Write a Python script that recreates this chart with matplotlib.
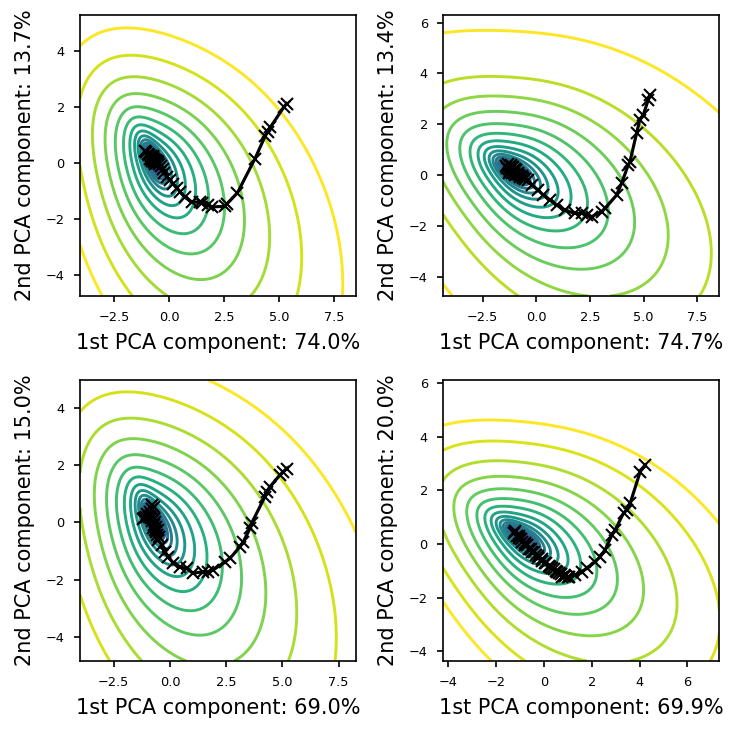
import numpy as np
import matplotlib
matplotlib.use("Agg")
import matplotlib.pyplot as plt

# ---------------- data ----------------
xlabels = ["1st PCA component: 74.0%", "1st PCA component: 74.7%",
           "1st PCA component: 69.0%", "1st PCA component: 69.9%"]
ylabels = ["2nd PCA component: 13.7%", "2nd PCA component: 13.4%",
           "2nd PCA component: 15.0%", "2nd PCA component: 20.0%"]
xlims = [(-4.06, 8.49), (-4.34, 8.53), (-4.0, 8.27), (-4.23, 7.35)]
ylims = [(-4.73, 5.27), (-4.76, 6.3), (-4.84, 4.97), (-4.37, 6.12)]
xticks = [[-2.5, 0.0, 2.5, 5.0, 7.5], [-2.5, 0.0, 2.5, 5.0, 7.5],
          [-2.5, 0.0, 2.5, 5.0, 7.5], [-4, -2, 0, 2, 4, 6]]
yticks = [[-4, -2, 0, 2, 4], [-4, -2, 0, 2, 4, 6], [-4, -2, 0, 2, 4], [-4, -2, 0, 2, 4, 6]]

traj1_x = [5.34, 5.20, 4.60, 4.48, 4.36, 3.90, 3.10, 2.62, 2.52, 1.95, 1.75, 1.50, 1.40, 1.05,
           0.72, 0.50, 0.35, 0.18, 0.05, -0.10, -0.22, -0.30, -0.38, -0.45, -0.52, -0.58, -0.62,
           -0.68, -0.72, -0.78, -0.82, -0.70, -0.75, -0.85, -0.92, -0.98, -1.05, -1.12, -0.88,
           -0.80, -0.66, -0.60, -0.70, -0.78, -0.72, -0.65, -0.55]
traj1_y = [2.12, 1.98, 1.28, 1.12, 0.96, 0.16, -1.06, -1.45, -1.54, -1.56, -1.50, -1.42, -1.38,
           -1.40, -1.22, -1.04, -0.88, -0.74, -0.62, -0.50, -0.36, -0.22, -0.10, -0.02, 0.04,
           0.00, 0.08, 0.04, 0.12, 0.10, 0.18, 0.16, 0.22, 0.24, 0.30, 0.34, 0.40, 0.44, 0.14,
           0.06, -0.04, 0.02, 0.10, 0.20, 0.26, 0.12, 0.06]

traj2_x = [5.29, 5.21, 4.98, 4.82, 4.67, 4.36, 4.28, 3.97, 3.74, 3.20, 3.04, 2.58, 2.34, 2.11,
           1.80, 1.33, 0.95, 0.64, 0.33, 0.09, -0.21, -0.37, -0.50, -0.60, -0.68, -0.75, -0.82,
           -0.90, -0.98, -1.05, -1.12, -1.20, -1.28, -1.36, -1.42, -1.30, -1.18, -1.08, -0.95,
           -0.85, -1.00, -1.15, -1.25]
traj2_y = [3.15, 2.95, 2.36, 2.17, 1.64, 0.52, 0.39, -0.33, -0.79, -1.31, -1.44, -1.64, -1.57,
           -1.51, -1.51, -1.38, -1.18, -0.98, -0.79, -0.59, -0.39, -0.20, -0.16, -0.10, -0.05,
           -0.08, 0.00, 0.05, 0.02, 0.10, 0.08, 0.15, 0.22, 0.28, 0.35, 0.42, 0.40, 0.30, 0.18,
           0.10, 0.22, 0.30, 0.10]

traj3_x = [5.19, 5.04, 4.89, 4.44, 4.30, 4.22, 3.63, 3.56, 3.26, 3.11, 2.67, 2.44, 1.93, 1.70,
           1.48, 1.04, 0.74, 0.44, 0.15, -0.07, -0.22, -0.37, -0.52, -0.59, -0.50, -0.62, -0.55,
           -0.68, -0.60, -0.72, -0.65, -0.78, -0.70, -0.85, -0.95, -1.05, -1.15, -1.20, -1.00,
           -0.88, -0.80, -0.72, -0.78, -0.82, -0.75]
traj3_y = [1.88, 1.77, 1.65, 1.24, 1.07, 0.89, -0.03, -0.21, -0.68, -0.85, -1.26, -1.38, -1.66,
           -1.72, -1.72, -1.78, -1.61, -1.55, -1.43, -1.20, -1.03, -0.79, -0.62, -0.44, -0.50,
           -0.35, -0.25, -0.28, -0.15, -0.10, 0.00, 0.05, 0.12, 0.15, 0.20, 0.18, 0.14, 0.10,
           0.30, 0.35, 0.45, 0.55, 0.60, 0.25, -0.20]

traj4_x = [4.24, 4.03, 3.61, 3.47, 3.33, 2.98, 2.85, 2.56, 2.36, 2.15, 1.80, 1.59, 1.31, 1.03,
           0.75, 0.90, 0.61, 0.50, 0.33, 0.20, 0.05, -0.08, -0.23, -0.35, -0.50, -0.62, -0.78,
           -0.90, -1.06, -1.15, -1.27, -1.20, -1.05, -0.95, -0.80, -0.70, -0.55, -0.40, -0.25,
           -0.10, 0.10, 0.25, 0.40, 0.55, 0.70, 0.85, 1.00]
traj4_y = [2.95, 2.70, 1.52, 1.27, 1.15, 0.52, 0.34, -0.22, -0.47, -0.66, -0.91, -1.03, -1.16,
           -1.22, -1.22, -1.18, -1.09, -1.00, -0.91, -0.82, -0.72, -0.62, -0.53, -0.42, -0.29,
           -0.18, -0.04, 0.08, 0.21, 0.30, 0.40, 0.50, 0.30, 0.20, 0.05, -0.05, -0.20, -0.30,
           -0.45, -0.55, -0.70, -0.85, -0.95, -1.05, -1.12, -1.20, -1.25]

# loss-surface description per panel: inner basin metric morphing into a broad outer bowl,
# skewed toward the valley direction
basin_x = [-0.75, -1.15, -0.75, -1.00]
basin_y = [0.12, 0.20, 0.10, 0.30]
basin_angle = [-57, -31, -58, -32]
basin_major = [1.0, 1.0, 1.0, 1.0]
basin_minor = [0.40, 0.38, 0.38, 0.33]
bowl_angle = [-48, -27, -48, -30]
bowl_major = [1.22, 1.18, 1.15, 1.08]
bowl_minor = [0.78, 0.64, 0.74, 0.60]
morph_scale = [5.0, 5.0, 5.0, 5.0]
skew_angle = [-40, -25, -40, -25]
skew_strength = [0.8, 0.75, 0.8, 0.75]
skew_radius = [1.0, 1.0, 1.0, 1.0]
second_level = [37.5, 37.5, 37.5, 37.5]   # value of the second-highest contour
top_gap = [0.0, 0.80, 0.47, 0.40]          # log-gap to the highest contour (0 = none)
n_levels = 20
outer_step = 0.46   # log-spacing of the outer levels
inner_step = 0.26   # log-spacing of the innermost levels

trajs = [(traj1_x, traj1_y), (traj2_x, traj2_y), (traj3_x, traj3_y), (traj4_x, traj4_y)]


def quad(dx, dy, ang, a, b):
    t = np.deg2rad(ang)
    u = dx * np.cos(t) + dy * np.sin(t)
    v = -dx * np.sin(t) + dy * np.cos(t)
    return (u / a) ** 2 + (v / b) ** 2


def surface(X, Y, i):
    dx = X - basin_x[i]
    dy = Y - basin_y[i]
    QA = quad(dx, dy, basin_angle[i], basin_major[i], basin_minor[i])
    t = QA / (QA + morph_scale[i])
    ang = basin_angle[i] + t * (bowl_angle[i] - basin_angle[i])
    a = basin_major[i] + t * (bowl_major[i] - basin_major[i])
    b = basin_minor[i] + t * (bowl_minor[i] - basin_minor[i])
    Q = quad(dx, dy, ang, a, b)
    e = np.deg2rad(skew_angle[i])
    r = np.hypot(dx, dy)
    proj = dx * np.cos(e) + dy * np.sin(e)
    S = Q * np.exp(-skew_strength[i] * proj / (r + skew_radius[i]))
    return np.log(S + 1e-12)


fig = plt.figure(figsize=(4.9, 4.9), dpi=150)
positions = [(0.1088, 0.5973, 0.3755, 0.3823), (0.6027, 0.5973, 0.3762, 0.3823),
             (0.1088, 0.1007, 0.3755, 0.3823), (0.6027, 0.1007, 0.3762, 0.3823)]

steps = np.linspace(outer_step, inner_step, n_levels - 1)

for i in range(4):
    ax = fig.add_axes(positions[i])
    xs = np.linspace(xlims[i][0], xlims[i][1], 500)
    ys = np.linspace(ylims[i][0], ylims[i][1], 500)
    X, Y = np.meshgrid(xs, ys)
    Z = surface(X, Y, i)
    base = np.log(second_level[i])
    levels = list(base - np.concatenate([[0.0], np.cumsum(steps)]))
    if top_gap[i] > 0:
        levels.append(base + top_gap[i])
    levels = np.sort(np.array(levels))
    ax.contour(X, Y, Z, levels=levels, cmap="viridis", linewidths=1.4)
    tx, ty = trajs[i]
    ax.plot(tx, ty, color="black", lw=1.5, marker="x", ms=6, mew=1.0)
    ax.set_xlim(*xlims[i])
    ax.set_ylim(*ylims[i])
    ax.set_xticks(xticks[i])
    ax.set_yticks(yticks[i])
    ax.set_xlabel(xlabels[i], fontsize=10, labelpad=4)
    ax.set_ylabel(ylabels[i], fontsize=10, labelpad=5)
    ax.tick_params(labelsize=6.2, length=3, width=0.8, pad=4.3)

fig.savefig("out.png", dpi=150)
